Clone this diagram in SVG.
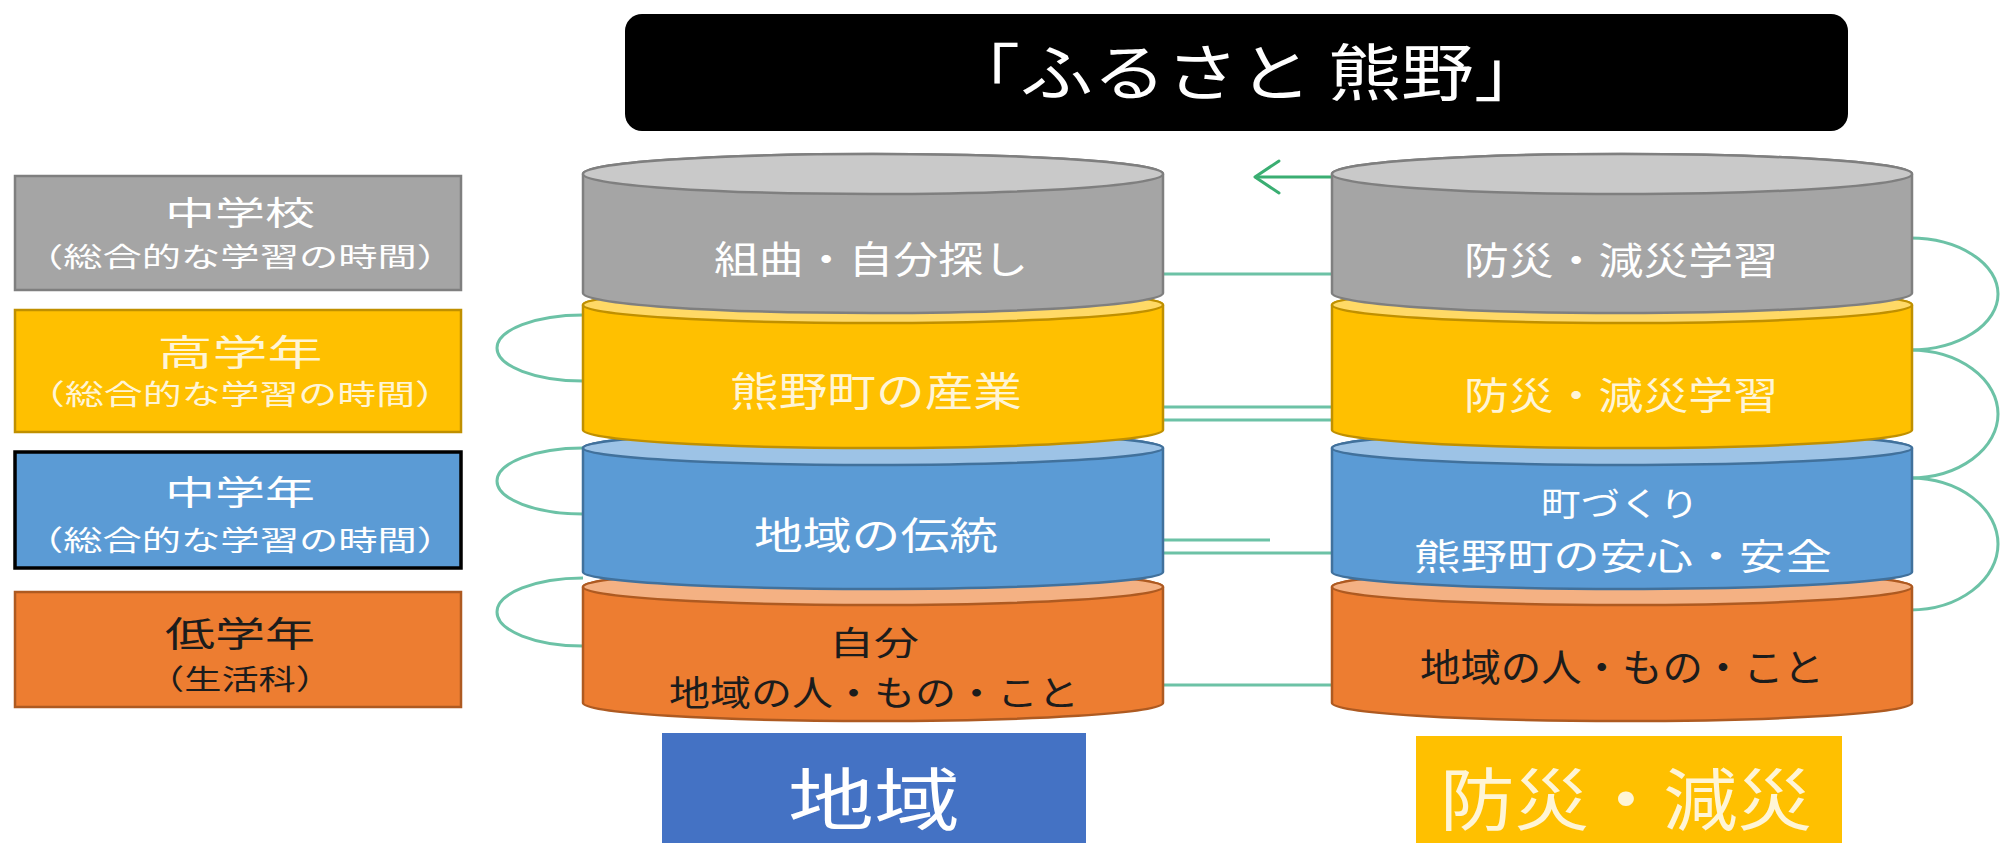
<svg xmlns="http://www.w3.org/2000/svg" width="2006" height="843" viewBox="0 0 2006 843">
<style>
text{font-family:"Noto Sans CJK JP","Noto Sans CJK SC",sans-serif;text-anchor:middle}
.w{fill:#ffffff}
.cr{fill:#fff5d6}
.dk{fill:#1c1c1c}
.conn{fill:none;stroke:#6cc2a6;stroke-width:3}
.arr{fill:none;stroke:#3aae72;stroke-width:3;stroke-linecap:round;stroke-linejoin:round}
.gB{fill:#a5a5a5;stroke:#7f7f7f;stroke-width:2.5}
.gT{fill:#c9c9c9;stroke:#7f7f7f;stroke-width:2.5}
.yB{fill:#ffc000;stroke:#c09000;stroke-width:2.5}
.yT{fill:#ffd966;stroke:#c09000;stroke-width:2.5}
.bB{fill:#5b9bd5;stroke:#41719c;stroke-width:2.5}
.bT{fill:#9dc3e6;stroke:#41719c;stroke-width:2.5}
.oB{fill:#ed7d31;stroke:#ae5a21;stroke-width:2.5}
.oT{fill:#f4b183;stroke:#ae5a21;stroke-width:2.5}
</style>

<g id="connectors">
  <line class="conn" x1="1163" y1="274" x2="1332" y2="274"/>
  <line class="conn" x1="1163" y1="407" x2="1332" y2="407"/>
  <line class="conn" x1="1163" y1="420" x2="1332" y2="420"/>
  <line class="conn" x1="1163" y1="540" x2="1270" y2="540" stroke="#9fc9b8"/>
  <line class="conn" x1="1163" y1="553" x2="1332" y2="553"/>
  <line class="conn" x1="1163" y1="685" x2="1332" y2="685"/>
  <path class="conn" d="M583,315 A86,33 0 0 0 583,381"/>
  <path class="conn" d="M583,448 A86,33 0 0 0 583,514"/>
  <path class="conn" d="M583,578 A86,34 0 0 0 583,646"/>
  <path class="conn" d="M1910,238 A88,56 0 0 1 1910,350"/>
  <path class="conn" d="M1910,350 A88,64 0 0 1 1910,478"/>
  <path class="conn" d="M1910,478 A88,66 0 0 1 1910,610"/>
  <line class="arr" x1="1332" y1="177" x2="1256" y2="177"/>
  <polyline class="arr" points="1279,161 1255,177 1279,193"/>
</g>

<g id="title">
  <rect x="625" y="14" width="1223" height="117" rx="17" fill="#000000"/>
  <text class="w" x="1247" y="96" font-size="62" textLength="600" lengthAdjust="spacingAndGlyphs">「ふるさと 熊野」</text>
</g>

<g id="legend-chugakko">
  <rect x="15" y="176" width="446" height="114" fill="#a5a5a5" stroke="#7f7f7f" stroke-width="2.5"/>
  <text class="w" x="240" y="225" font-size="33" textLength="150" lengthAdjust="spacingAndGlyphs">中学校</text>
  <text class="w" x="240" y="267" font-size="27" textLength="432" lengthAdjust="spacingAndGlyphs">（総合的な学習の時間）</text>
</g>
<g id="legend-kogakunen">
  <rect x="15" y="310" width="446" height="122" fill="#ffc000" stroke="#c09000" stroke-width="2.5"/>
  <text class="cr" x="240" y="366" font-size="36" textLength="165" lengthAdjust="spacingAndGlyphs">高学年</text>
  <text class="cr" x="240" y="405" font-size="28" textLength="428" lengthAdjust="spacingAndGlyphs">（総合的な学習の時間）</text>
</g>
<g id="legend-chugakunen">
  <rect x="15" y="452" width="446" height="116" fill="#5b9bd5" stroke="#000000" stroke-width="3.5"/>
  <text class="w" x="240" y="505" font-size="34" textLength="150" lengthAdjust="spacingAndGlyphs">中学年</text>
  <text class="w" x="240" y="551" font-size="28" textLength="432" lengthAdjust="spacingAndGlyphs">（総合的な学習の時間）</text>
</g>
<g id="legend-teigakunen">
  <rect x="15" y="592" width="446" height="115" fill="#ed7d31" stroke="#ae5a21" stroke-width="2.5"/>
  <text class="dk" x="240" y="647" font-size="35" textLength="150" lengthAdjust="spacingAndGlyphs">低学年</text>
  <text class="dk" x="240" y="690" font-size="28" textLength="186" lengthAdjust="spacingAndGlyphs">（生活科）</text>
</g>

<g id="left-orange">
  <path class="oB" d="M583,587 L583,703 A290,18 0 0 0 1163,703 L1163,587 A290,18 0 0 0 583,587 Z"/>
  <ellipse class="oT" cx="873" cy="587" rx="290" ry="18"/>
  <text class="dk" x="874" y="655" font-size="33" textLength="90" lengthAdjust="spacingAndGlyphs">自分</text>
  <text class="dk" x="874" y="706" font-size="35" textLength="410" lengthAdjust="spacingAndGlyphs">地域の人・もの・こと</text>
</g>
<g id="left-blue">
  <path class="bB" d="M583,448 L583,572 A290,17 0 0 0 1163,572 L1163,448 A290,17 0 0 0 583,448 Z"/>
  <ellipse class="bT" cx="873" cy="448" rx="290" ry="17"/>
  <text class="w" x="876" y="549" font-size="38" textLength="244" lengthAdjust="spacingAndGlyphs">地域の伝統</text>
</g>
<g id="left-yellow">
  <path class="yB" d="M583,305 L583,430 A290,18 0 0 0 1163,430 L1163,305 A290,18 0 0 0 583,305 Z"/>
  <ellipse class="yT" cx="873" cy="305" rx="290" ry="18"/>
  <text class="cr" x="876" y="406" font-size="40" textLength="292" lengthAdjust="spacingAndGlyphs">熊野町の産業</text>
</g>
<g id="left-gray">
  <path class="gB" d="M583,174 L583,293 A290,20 0 0 0 1163,293 L1163,174 A290,20 0 0 0 583,174 Z"/>
  <ellipse class="gT" cx="873" cy="174" rx="290" ry="20"/>
  <text class="w" x="871" y="273" font-size="38" textLength="314" lengthAdjust="spacingAndGlyphs">組曲・自分探し</text>
</g>

<g id="right-orange">
  <path class="oB" d="M1332,587 L1332,703 A290,18 0 0 0 1912,703 L1912,587 A290,18 0 0 0 1332,587 Z"/>
  <ellipse class="oT" cx="1622" cy="587" rx="290" ry="18"/>
  <text class="dk" x="1622" y="681" font-size="38" textLength="404" lengthAdjust="spacingAndGlyphs">地域の人・もの・こと</text>
</g>
<g id="right-blue">
  <path class="bB" d="M1332,448 L1332,572 A290,17 0 0 0 1912,572 L1912,448 A290,17 0 0 0 1332,448 Z"/>
  <ellipse class="bT" cx="1622" cy="448" rx="290" ry="17"/>
  <text class="w" x="1620" y="516" font-size="33" textLength="158" lengthAdjust="spacingAndGlyphs">町づくり</text>
  <text class="w" x="1623" y="570" font-size="36" textLength="418" lengthAdjust="spacingAndGlyphs">熊野町の安心・安全</text>
</g>
<g id="right-yellow">
  <path class="yB" d="M1332,305 L1332,430 A290,18 0 0 0 1912,430 L1912,305 A290,18 0 0 0 1332,305 Z"/>
  <ellipse class="yT" cx="1622" cy="305" rx="290" ry="18"/>
  <text class="cr" x="1621" y="409" font-size="38" textLength="314" lengthAdjust="spacingAndGlyphs">防災・減災学習</text>
</g>
<g id="right-gray">
  <path class="gB" d="M1332,174 L1332,293 A290,20 0 0 0 1912,293 L1912,174 A290,20 0 0 0 1332,174 Z"/>
  <ellipse class="gT" cx="1622" cy="174" rx="290" ry="20"/>
  <text class="w" x="1621" y="274" font-size="38" textLength="314" lengthAdjust="spacingAndGlyphs">防災・減災学習</text>
</g>

<g id="label-chiiki">
  <rect x="662" y="733" width="424" height="110" fill="#4472c4"/>
  <text class="w" x="874" y="825" font-size="68" textLength="172" lengthAdjust="spacingAndGlyphs">地域</text>
</g>
<g id="label-bosai">
  <rect x="1416" y="736" width="426" height="107" fill="#ffc000"/>
  <text class="cr" x="1626" y="825" font-size="68" textLength="372" lengthAdjust="spacingAndGlyphs">防災・減災</text>
</g>
</svg>
